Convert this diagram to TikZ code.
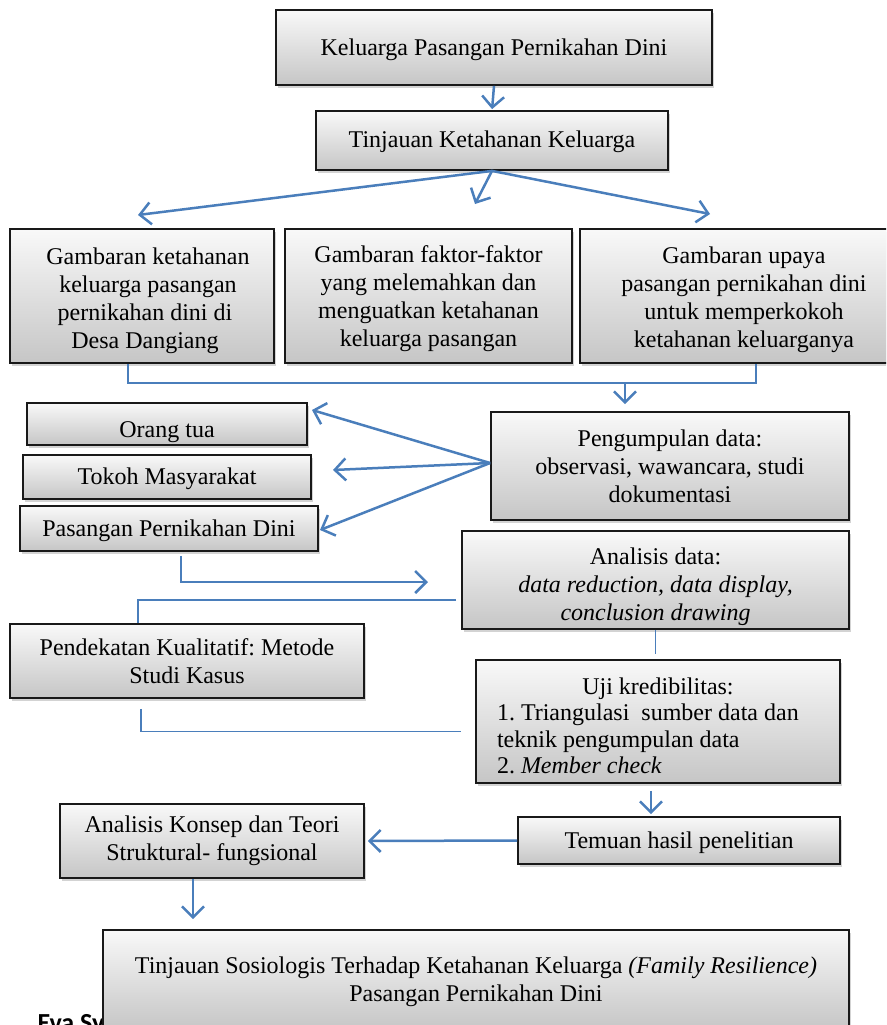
\documentclass[tikz,border=0pt]{standalone}
\usepackage{fontspec}
\setmainfont{Liberation Serif}
\newfontfamily\kakifont{Carlito}
\usetikzlibrary{arrows.meta,shadows}
\definecolor{garisbiru}{RGB}{74,126,187}
\frenchspacing
\newcommand{\isiturun}[2]{\raisebox{-#1}[\height][\depth]{\begin{tabular}{@{}c@{}}#2\end{tabular}}}
\tikzset{
  kotak/.style={draw=black!90, line width=1.8pt, top color=gray!5, bottom color=gray!45,
    drop shadow={shadow xshift=2pt, shadow yshift=-3pt, opacity=0.35},
    align=center, inner sep=0pt, font=\fontsize{24}{28}\selectfont},
  panah/.style={draw=garisbiru, line width=2.5pt, -{Straight Barb[length=11pt,width=22pt]}},
  garis/.style={draw=garisbiru, line width=1.6pt},
}
\begin{document}
\begin{tikzpicture}[x=1pt,y=-1pt]
  \useasboundingbox (0,0) rectangle (886,1025);
  \clip (0,0) rectangle (886,1025);

  \node[anchor=base west, font=\kakifont\bfseries\fontsize{26}{30}\selectfont] (kaki) at (34,1031) {Eva Sy};

  \node[kotak, minimum width=436pt, minimum height=75pt] (keluarga) at (494,47.5) {\isiturun{2pt}{Keluarga Pasangan Pernikahan Dini}};
  \node[kotak, minimum width=352pt, minimum height=59pt] (tinjauan) at (492,140.5) {\isiturun{1pt}{Tinjauan Ketahanan Keluarga}};
  \node[kotak, minimum width=264pt, minimum height=134pt] (gkiri) at (142,296) {\isiturun{5pt}{\ \ Gambaran ketahanan\\ \ \ keluarga pasangan\\ \ pernikahan dini di\\ \ Desa Dangiang}};
  \node[kotak, minimum width=287pt, minimum height=134pt] (gtengah) at (428.5,296) {\isiturun{3pt}{Gambaran faktor-faktor\\ yang melemahkan dan\\ menguatkan ketahanan\\ keluarga pasangan}};
  \node[kotak, minimum width=328pt, minimum height=134pt] (gkanan) at (744,296) {\isiturun{4pt}{Gambaran upaya\\ pasangan pernikahan dini\\ untuk memperkokoh\\ ketahanan keluarganya}};
  \node[kotak, minimum width=280pt, minimum height=42pt] (orangtua) at (167,424) {\isiturun{8pt}{Orang tua}};
  \node[kotak, minimum width=288pt, minimum height=44pt] (tokoh) at (167,477) {\isiturun{2pt}{Tokoh Masyarakat}};
  \node[kotak, minimum width=298pt, minimum height=45pt] (pasangan) at (169,528.5) {\isiturun{2pt}{Pasangan Pernikahan Dini}};
  \node[kotak, minimum width=358pt, minimum height=108pt] (pengumpulan) at (670,466) {Pengumpulan data:\\ observasi, wawancara, studi\\ dokumentasi};
  \node[kotak, minimum width=387pt, minimum height=98pt] (analisis) at (655.5,580) {\isiturun{7pt}{Analisis data:\\ \textit{data reduction, data display,}\\ \textit{conclusion drawing}}};
  \node[kotak, minimum width=354pt, minimum height=74pt] (pendekatan) at (187,661) {Pendekatan Kualitatif: Metode\\ Studi Kasus};
  \node[kotak, minimum width=364pt, minimum height=123pt, font=\fontsize{24}{26.5}\selectfont] (uji) at (658,721.5) {\raisebox{-7pt}[\height][\depth]{\begin{tabular}{@{}l@{}}\makebox[322pt][c]{Uji kredibilitas:}\\ 1. Triangulasi\ \ sumber data dan\\ teknik pengumpulan data\\ 2. \textit{Member check}\end{tabular}}};
  \node[kotak, minimum width=322pt, minimum height=47pt] (temuan) at (679,840.5) {\isiturun{2pt}{Temuan hasil penelitian}};
  \node[kotak, minimum width=304pt, minimum height=74pt] (konsep) at (212,841) {Analisis Konsep dan Teori\\ Struktural- fungsional};
  \node[kotak, minimum width=746pt, minimum height=100pt] (akhir) at (476,980) {\isiturun{2pt}{Tinjauan Sosiologis Terhadap Ketahanan Keluarga \textit{(Family Resilience)}\\ Pasangan Pernikahan Dini}};

  \coordinate (ujungkiri) at (138,215);
  \coordinate (ujungtengah) at (475,204);
  \coordinate (ujungkanan) at (710,214);
  \coordinate (gabung) at (625,382);
  \coordinate (ujungortu) at (312,410);
  \coordinate (ujungtokoh) at (333,470);
  \coordinate (ujungpasangan) at (320,530);
  \coordinate (ujunganalisis) at (428,582);

  \draw[panah, shorten >=1pt] (keluarga.south) -- (tinjauan.north);
  \draw[panah] (tinjauan.south) -- (ujungkiri);
  \draw[panah] (tinjauan.south) -- (ujungtengah);
  \draw[panah] (tinjauan.south) -- (ujungkanan);
  \draw[garis] ([xshift=-14pt]gkiri.south) -- ++(0,19) -| ([xshift=12pt]gkanan.south);
  \draw[panah, shorten >=7pt] (gabung) -- (gabung |- pengumpulan.north);
  \draw[panah] ([yshift=3pt]pengumpulan.west) -- (ujungortu);
  \draw[panah] ([yshift=3pt]pengumpulan.west) -- (ujungtokoh);
  \draw[panah] ([yshift=3pt]pengumpulan.west) -- (ujungpasangan);
  \draw[panah, shorten <=4pt] ([xshift=12pt]pasangan.south) |- (ujunganalisis);
  \draw[garis] ([xshift=-5pt,yshift=-20pt]analisis.west) -| ([xshift=-49pt]pendekatan.north);
  \draw[garis, shorten >=5pt] (analisis.south) -- (analisis.south |- uji.north);
  \draw[garis, shorten <=10pt] ([xshift=-46pt]pendekatan.south) |- ([xshift=-14pt,yshift=-10pt]uji.west);
  \draw[panah, shorten <=7pt, shorten >=2pt] ([xshift=-7pt]uji.south) -- ([xshift=-7pt]uji.south |- temuan.north);
  \draw[panah, shorten >=3pt] (temuan.west) -- (konsep.east);
  \draw[panah, shorten >=10pt] ([xshift=-19pt]konsep.south) -- ([xshift=-19pt]konsep.south |- akhir.north);
\end{tikzpicture}
\end{document}
